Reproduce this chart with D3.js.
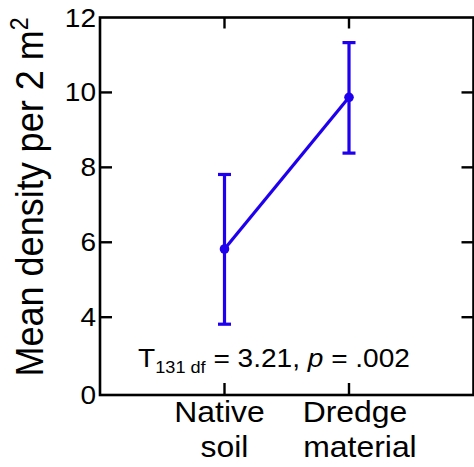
<!DOCTYPE html>
<html><head><meta charset="utf-8">
<script src="https://cdn.jsdelivr.net/npm/d3@7"></script>
<style>body{margin:0;background:#fff}svg{display:block}text{font-family:"Liberation Sans",Arial,sans-serif;fill:#000}</style>
</head><body><svg id="c" width="474" height="467"></svg>
<script>
const categories = ["Native soil", "Dredge material"];
const categoryLines = [["Native", "soil"], ["Dredge", "material"]];
const means = [5.82, 9.87];
const upper = [7.81, 11.33];
const lower = [3.64, 8.38];
const yTicks = [0, 4, 6, 8, 10, 12];
const annotation = {T: "T", sub: "131 df", mid: " = 3.21, ", p: "p", end: " = .002"};

const svg = d3.select("#c");
const L = 100, R = 473.5, T = 17.5, B = 395;
const SX = 1.1;
const blue = "#1e00ee";
const lineShift = [[-5, 0], [6, 11]];

const x = d3.scalePoint().domain(categories).range([L, R]).padding(1);
// broken axis: 0..4 compressed
const y = d3.scaleLinear().domain([0, 4, 12]).range([B, 317.2, T]);

// frame
svg.append("rect").attr("x", L).attr("y", T).attr("width", R - L).attr("height", B - T)
  .attr("fill", "none").attr("stroke", "#000").attr("stroke-width", 2.6);

// left/right ticks (inward) + labels
const yAx = svg.append("g");
const inner = yTicks.filter(d => d !== 0 && d !== 12);
yAx.selectAll("line.l").data(inner).join("line").attr("class", "l")
  .attr("x1", L).attr("x2", L + 12).attr("y1", d => y(d)).attr("y2", d => y(d))
  .attr("stroke", "#000").attr("stroke-width", 2.4);
yAx.selectAll("line.r").data(inner).join("line").attr("class", "r")
  .attr("x1", R).attr("x2", R - 12).attr("y1", d => y(d)).attr("y2", d => y(d))
  .attr("stroke", "#000").attr("stroke-width", 2.4);
yAx.selectAll("text").data(yTicks).join("text")
  .attr("transform", d => `translate(96,${y(d) + 9}) scale(${SX},1)`)
  .attr("text-anchor", "end").attr("font-size", 25.5).text(d => d);

// x ticks top & bottom (inward)
svg.selectAll("line.xb").data(categories).join("line").attr("class", "xb")
  .attr("x1", d => x(d)).attr("x2", d => x(d)).attr("y1", B).attr("y2", B - 12)
  .attr("stroke", "#000").attr("stroke-width", 2.4);
svg.selectAll("line.xt").data(categories).join("line").attr("class", "xt")
  .attr("x1", d => x(d)).attr("x2", d => x(d)).attr("y1", T).attr("y2", T + 11)
  .attr("stroke", "#000").attr("stroke-width", 2.4);

// x labels
categories.forEach((c, i) => {
  categoryLines[i].forEach((ln, j) => {
    svg.append("text")
      .attr("transform", `translate(${x(c) + lineShift[i][j]},${421.5 + j * 35}) scale(${SX},1)`)
      .attr("text-anchor", "middle").attr("font-size", 29).text(ln);
  });
});

// y title
const yt = svg.append("text")
  .attr("transform", `translate(43,197) scale(${SX},1) rotate(-90)`)
  .attr("text-anchor", "middle").attr("font-size", 36);
yt.append("tspan").text("Mean density per 2 m");
yt.append("tspan").attr("font-size", 23).attr("dy", -14).text("2");

// data line
const pts = categories.map((c, i) => [x(c), y(means[i])]);
svg.append("path").attr("d", d3.line()(pts)).attr("fill", "none")
  .attr("stroke", blue).attr("stroke-width", 3.2);

// error bars
const eb = svg.append("g").attr("stroke", blue).attr("stroke-width", 3.2);
categories.forEach((c, i) => {
  eb.append("line").attr("x1", x(c)).attr("x2", x(c)).attr("y1", y(upper[i])).attr("y2", y(lower[i]));
  [upper[i], lower[i]].forEach(v => {
    eb.append("line").attr("x1", x(c) - 6.5).attr("x2", x(c) + 6.5).attr("y1", y(v)).attr("y2", y(v));
  });
});
svg.selectAll("circle").data(categories).join("circle")
  .attr("cx", d => x(d)).attr("cy", (d, i) => y(means[i])).attr("r", 4.8).attr("fill", blue);

// annotation
const an = svg.append("text")
  .attr("transform", `translate(274,366.5) scale(${SX},1)`)
  .attr("text-anchor", "middle").attr("font-size", 25.5);
an.append("tspan").text(annotation.T);
an.append("tspan").attr("font-size", 16.5).attr("dy", 6).text(annotation.sub);
an.append("tspan").attr("dy", -6).text(annotation.mid);
an.append("tspan").attr("font-style", "italic").text(annotation.p);
an.append("tspan").text(annotation.end);
</script></body></html>
